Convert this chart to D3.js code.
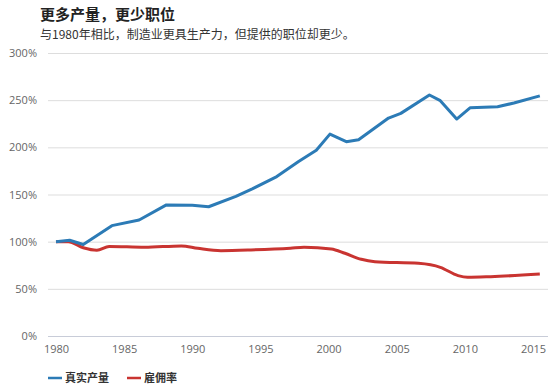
<!DOCTYPE html>
<html><head><meta charset="utf-8">
<script src="https://cdn.jsdelivr.net/npm/d3@7"></script>
<style>
html,body{margin:0;padding:0;background:#fff;}
svg{display:block;font-family:"Noto Sans CJK SC","Noto Sans",sans-serif;}
</style></head>
<body><svg id="c" width="558" height="391"></svg>
<script>
const titleText = "更多产量，更少职位";
const subtitleText = "与1980年相比，制造业更具生产力，但提供的职位却更少。";
const seriesNames = ["真实产量", "雇佣率"];
const seriesColors = ["#2c7bb6", "#c93431"];
const yTicks = [0, 50, 100, 150, 200, 250, 300];
const xTicks = [1980, 1985, 1990, 1995, 2000, 2005, 2010, 2015];

const outputYears = [1980, 1981, 1982, 1984.1, 1986.1, 1988.1, 1990, 1991.2, 1993.2, 1994.4, 1996.2, 1997.8, 1999.1, 2000.1, 2001.3, 2002.2, 2004.4, 2005.3, 2007.4, 2008.2, 2009.4, 2010.4, 2012.4, 2013.6, 2015.5];
const outputValues = [100, 101.5, 97, 117, 123, 139, 138.5, 137, 148, 156, 169, 185, 197, 214, 206, 208, 231, 236, 255.5, 249.5, 230, 242, 243, 247, 254.5];

const jobYears = [1980, 1980.9, 1982, 1983, 1983.9, 1986.5, 1989.2, 1990.4, 1992.1, 1994.3, 1997.2, 1998.2, 2000.2, 2001.2, 2002.4, 2003.4, 2006.6, 2008.2, 2009.5, 2010.2, 2011.9, 2015.5];
const jobValues = [100, 100, 93.6, 91, 95, 94, 95.5, 93, 90.5, 91.2, 93, 94, 92.3, 87.7, 81.3, 78.8, 77, 72.8, 64, 62.2, 62.9, 65.7];

const svg = d3.select("#c");
const x = d3.scaleLinear().domain([1980, 2015]).range([56, 533]);
const y = d3.scaleLinear().domain([0, 300]).range([336, 53]);
const gridLeft = 48, gridRight = 548;

svg.append("text").attr("x", 40).attr("y", 20).attr("font-size", 15).attr("font-weight", "bold")
  .attr("fill", "#222").text(titleText);
svg.append("text").attr("x", 40).attr("y", 38.5).attr("font-size", 12)
  .attr("fill", "#333").text(subtitleText);

// grid
const yAxis = d3.axisLeft(y).tickValues(yTicks).tickFormat(d => d + "%").tickSize(0).tickPadding(0);
const gy = svg.append("g").attr("transform", `translate(${gridLeft},0)`).call(yAxis);
gy.select(".domain").remove();
gy.selectAll(".tick line").attr("x2", gridRight - gridLeft).attr("stroke", d => d === 0 ? "#c8ccd8" : "#dddddd");
gy.selectAll(".tick text").attr("x", -11).attr("fill", "#666").attr("font-size", 11)
  .attr("font-family", "'Open Sans','Noto Sans',sans-serif");

const xAxis = d3.axisBottom(x).tickValues(xTicks).tickFormat(d3.format("d")).tickSize(0).tickPadding(0);
const gx = svg.append("g").attr("transform", `translate(0,${y(0)})`).call(xAxis);
gx.select(".domain").remove();
gx.selectAll(".tick text").attr("y", 9).attr("dy", "0.71em").attr("fill", "#666").attr("font-size", 11)
  .attr("font-family", "'Open Sans','Noto Sans',sans-serif");

const lineLin = d3.line().x(d => x(d[0])).y(d => y(d[1]));
const lineSmooth = d3.line().x(d => x(d[0])).y(d => y(d[1])).curve(d3.curveMonotoneX);

svg.append("path").datum(d3.zip(jobYears, jobValues)).attr("d", lineSmooth)
  .attr("fill", "none").attr("stroke", seriesColors[1]).attr("stroke-width", 3).attr("stroke-linejoin", "round");
svg.append("path").datum(d3.zip(outputYears, outputValues)).attr("d", lineLin)
  .attr("fill", "none").attr("stroke", seriesColors[0]).attr("stroke-width", 3).attr("stroke-linejoin", "round");

// legend
const legendPos = [48, 127];
seriesNames.forEach((name, i) => {
  const g = svg.append("g").attr("transform", `translate(${legendPos[i]},378)`);
  g.append("line").attr("x1", 0).attr("x2", 14).attr("y1", 0).attr("y2", 0)
    .attr("stroke", seriesColors[i]).attr("stroke-width", 2.5);
  g.append("text").attr("x", 17).attr("y", 4).attr("font-size", 11).attr("font-weight", "bold")
    .attr("fill", "#333").text(name);
});
</script></body></html>
